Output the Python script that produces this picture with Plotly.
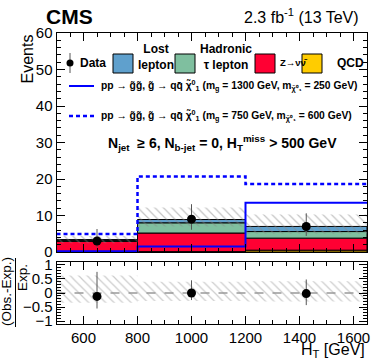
import plotly.graph_objects as go

# binning in HT
bin_edges = [500, 800, 1200, 1650]
bin_centers = [650, 1000, 1425]
bin_widths = [300, 400, 450]

# background yields
qcd = [0.1, 0.1, 0.5]
znunu = [2.8, 5.1, 3.3]
tau_had = [0.3, 2.8, 1.8]
lost_lep = [0.2, 0.9, 1.4]

# total uncertainty band in main panel
band_lo = [2.4, 7.0, 5.0]
band_hi = [4.4, 12.2, 10.3]

# data
data_y = [3, 9, 7]
data_err_up = [3.3, 4.1, 3.6]
data_err_dn = [1.7, 2.9, 2.6]

# signal benchmarks
sig_1300_250 = [0.2, 1.5, 13.5]
sig_750_600 = [4.9, 20.7, 18.6]

# ratio panel
ratio_y = [-0.12, 0.0, -0.02]
ratio_err_up = [0.87, 0.45, 0.5]
ratio_err_dn = [0.43, 0.25, 0.41]
ratio_band_hi = [0.62, 0.4, 0.42]
ratio_band_lo = [-0.35, -0.28, -0.3]

W, H = 374, 363
def px(x):
    return x / W
def py(y):
    return 1 - y / H

FONT = "Liberation Sans, Arial, sans-serif"
c_qcd, c_z, c_tau, c_ll = "#FFCC00", "#FF0033", "#7FBF9F", "#5FA0CD"

fig = go.Figure()

# stacked backgrounds (explicit bases, overlay mode)
base = [0, 0, 0]
for vals, col in [(qcd, c_qcd), (znunu, c_z), (tau_had, c_tau), (lost_lep, c_ll)]:
    fig.add_trace(go.Bar(x=bin_centers, y=vals, base=list(base), width=bin_widths,
                         marker=dict(color=col, line=dict(color="black", width=1)),
                         showlegend=False, xaxis="x", yaxis="y"))
    base = [b + v for b, v in zip(base, vals)]

# hatched uncertainty
fig.add_trace(go.Bar(x=bin_centers, y=[h - l for h, l in zip(band_hi, band_lo)], base=band_lo,
                     width=bin_widths,
                     marker=dict(color="rgba(0,0,0,0)", line=dict(width=0),
                                 pattern=dict(shape="\\", fgcolor="#888888", bgcolor="rgba(0,0,0,0)",
                                              size=6, solidity=0.2)),
                     showlegend=False, xaxis="x", yaxis="y"))

# signals
fig.add_trace(go.Scatter(x=bin_edges, y=sig_1300_250 + [sig_1300_250[-1]], mode="lines",
                         line=dict(color="#0000FF", width=2, shape="hv"),
                         showlegend=False, xaxis="x", yaxis="y"))
fig.add_trace(go.Scatter(x=bin_edges, y=sig_750_600 + [sig_750_600[-1]], mode="lines",
                         line=dict(color="#0000FF", width=2.5, shape="hv", dash="4px,3px"),
                         showlegend=False, xaxis="x", yaxis="y"))

# data
fig.add_trace(go.Scatter(x=bin_centers, y=data_y, mode="markers",
                         marker=dict(color="black", size=9),
                         error_y=dict(type="data", symmetric=False, array=data_err_up,
                                      arrayminus=data_err_dn, width=0, thickness=1, color="#555555"),
                         showlegend=False, xaxis="x", yaxis="y"))

# ratio band
fig.add_trace(go.Bar(x=bin_centers, y=[h - l for h, l in zip(ratio_band_hi, ratio_band_lo)],
                     base=ratio_band_lo, width=bin_widths,
                     marker=dict(color="rgba(0,0,0,0)", line=dict(width=0),
                                 pattern=dict(shape="\\", fgcolor="#999999", bgcolor="rgba(0,0,0,0)",
                                              size=6, solidity=0.2)),
                     showlegend=False, xaxis="x2", yaxis="y2"))
fig.add_trace(go.Scatter(x=[bin_edges[0], bin_edges[-1]], y=[0, 0], mode="lines",
                         line=dict(color="#999999", width=1.5, dash="dash"),
                         showlegend=False, xaxis="x2", yaxis="y2"))
fig.add_trace(go.Scatter(x=bin_centers, y=ratio_y, mode="markers",
                         marker=dict(color="black", size=9),
                         error_y=dict(type="data", symmetric=False, array=ratio_err_up,
                                      arrayminus=ratio_err_dn, width=0, thickness=1, color="#555555"),
                         showlegend=False, xaxis="x2", yaxis="y2"))

axis_common = dict(showline=True, linecolor="black", linewidth=1, mirror="ticks",
                   ticks="inside", tickcolor="black", showgrid=False, zeroline=False,
                   automargin=False,
                   tickfont=dict(family=FONT, size=15, color="black"))

fig.update_layout(
    width=W, height=H, margin=dict(l=0, r=0, t=0, b=0),
    paper_bgcolor="white", plot_bgcolor="white", barmode="overlay",
    font=dict(family=FONT, color="black"),
    xaxis=dict(domain=[px(56.5), px(367)], range=[500, 1650], anchor="y",
               tickvals=[600, 800, 1000, 1200, 1400, 1600], showticklabels=False, ticklen=8,
               minor=dict(dtick=50, tick0=500, ticks="inside", ticklen=4, tickcolor="black"),
               **axis_common),
    yaxis=dict(domain=[py(252), py(33)], range=[0, 60], anchor="x", dtick=10, ticklen=8,
               minor=dict(dtick=2, ticks="inside", ticklen=4, tickcolor="black"),
               **axis_common),
    xaxis2=dict(domain=[px(56.5), px(367)], range=[500, 1650], anchor="y2",
                tickvals=[600, 800, 1000, 1200, 1400, 1600], ticklen=8,
                minor=dict(dtick=50, tick0=500, ticks="inside", ticklen=4, tickcolor="black"),
                **axis_common),
    yaxis2=dict(domain=[py(324), py(262)], range=[-1.1, 1.1], anchor="x2",
                tickvals=[-1, -0.5, 0, 0.5, 1], ticktext=["\u22121", "\u22120.5", "0", "0.5", "1"],
                ticklen=8, minor=dict(dtick=0.1, ticks="inside", ticklen=4, tickcolor="black"),
                **axis_common),
)

anns = []
def txt(x, y, s, size, xanchor="left", bold=False, angle=0, yanchor="middle"):
    if bold:
        s = "<b>" + s + "</b>"
    anns.append(dict(x=px(x), y=py(y), xref="paper", yref="paper", text=s, showarrow=False,
                     xanchor=xanchor, yanchor=yanchor, textangle=angle,
                     font=dict(family=FONT, size=size, color="black")))

txt(44, 16, "CMS", 21, bold=True)
txt(361, 16, "2.3 fb<sup>-1</sup> (13 TeV)", 16, xanchor="right")
txt(27, 33, "Events", 16, angle=-90, yanchor="top", xanchor="center")
txt(367, 350, "H<sub>T</sub> [GeV]", 16, xanchor="right")
txt(222, 143, "N<sub>jet</sub>  \u2265 6, N<sub>b-jet</sub> = 0, H<sub>T</sub><sup>miss</sup> > 500 GeV",
    14, xanchor="center", bold=True)

# ratio axis title
txt(6, 292, "(Obs.-Exp.)", 13.5, angle=-90, xanchor="center")
txt(22, 278, "Exp.", 13.5, angle=-90, xanchor="center")

# legend
shapes = []
def box(x0, y0, x1, y1, col):
    shapes.append(dict(type="rect", xref="paper", yref="paper", x0=px(x0), x1=px(x1),
                       y0=py(y1), y1=py(y0), fillcolor=col, line=dict(color="black", width=1)))

row1 = 63
shapes.append(dict(type="line", xref="paper", yref="paper", x0=px(70), x1=px(70),
                   y0=py(row1 - 10), y1=py(row1 + 10), line=dict(color="#555555", width=1)))
shapes.append(dict(type="circle", xref="paper", yref="paper", x0=px(66.5), x1=px(73.5),
                   y0=py(row1 + 3.5), y1=py(row1 - 3.5), fillcolor="black",
                   line=dict(color="black", width=0)))
txt(78, row1, "Data", 12, bold=True)
box(113, row1 - 9, 133, row1 + 10, c_ll)
txt(136, row1 - 6, "Lost<br>lepton", 12, bold=True)
box(175, row1 - 9, 195, row1 + 10, c_tau)
txt(198, row1 - 6, "Hadronic<br>\u03c4 lepton", 12, bold=True)
box(255, row1 - 9, 275, row1 + 10, c_z)
txt(278, row1, "Z\u2192\u03bd\u03bd\u0304", 9.5, bold=True)
box(302, row1 - 9, 322, row1 + 10, c_qcd)
txt(335, row1, "QCD", 12, bold=True)

shapes.append(dict(type="line", xref="paper", yref="paper", x0=px(69), x1=px(94),
                   y0=py(86), y1=py(86), line=dict(color="#0000FF", width=2)))
shapes.append(dict(type="line", xref="paper", yref="paper", x0=px(69), x1=px(94),
                   y0=py(116), y1=py(116), line=dict(color="#0000FF", width=2.5, dash="4px,3px")))
txt(99, 85, "pp \u2192 g\u0303g\u0303, g\u0303 \u2192 qq\u0304 \u03c7\u0303<sup>0</sup><sub>1</sub> "
    "(m<sub>g\u0303</sub> = 1300 GeV, m<sub>\u03c7\u0303\u2070\u2081</sub> = 250 GeV)", 10.3, bold=True)
txt(99, 115, "pp \u2192 g\u0303g\u0303, g\u0303 \u2192 qq\u0304 \u03c7\u0303<sup>0</sup><sub>1</sub> "
    "(m<sub>g\u0303</sub> = 750 GeV, m<sub>\u03c7\u0303\u2070\u2081</sub> = 600 GeV)", 10.3, bold=True)

# fraction bar of ratio title
shapes.append(dict(type="line", xref="paper", yref="paper", x0=px(15.5), x1=px(15.5),
                   y0=py(327), y1=py(258), line=dict(color="black", width=1)))

fig.update_layout(annotations=anns, shapes=shapes)
fig.write_html("out.html", config={"displayModeBar": False},
               post_script="document.body.style.margin='0px';")
